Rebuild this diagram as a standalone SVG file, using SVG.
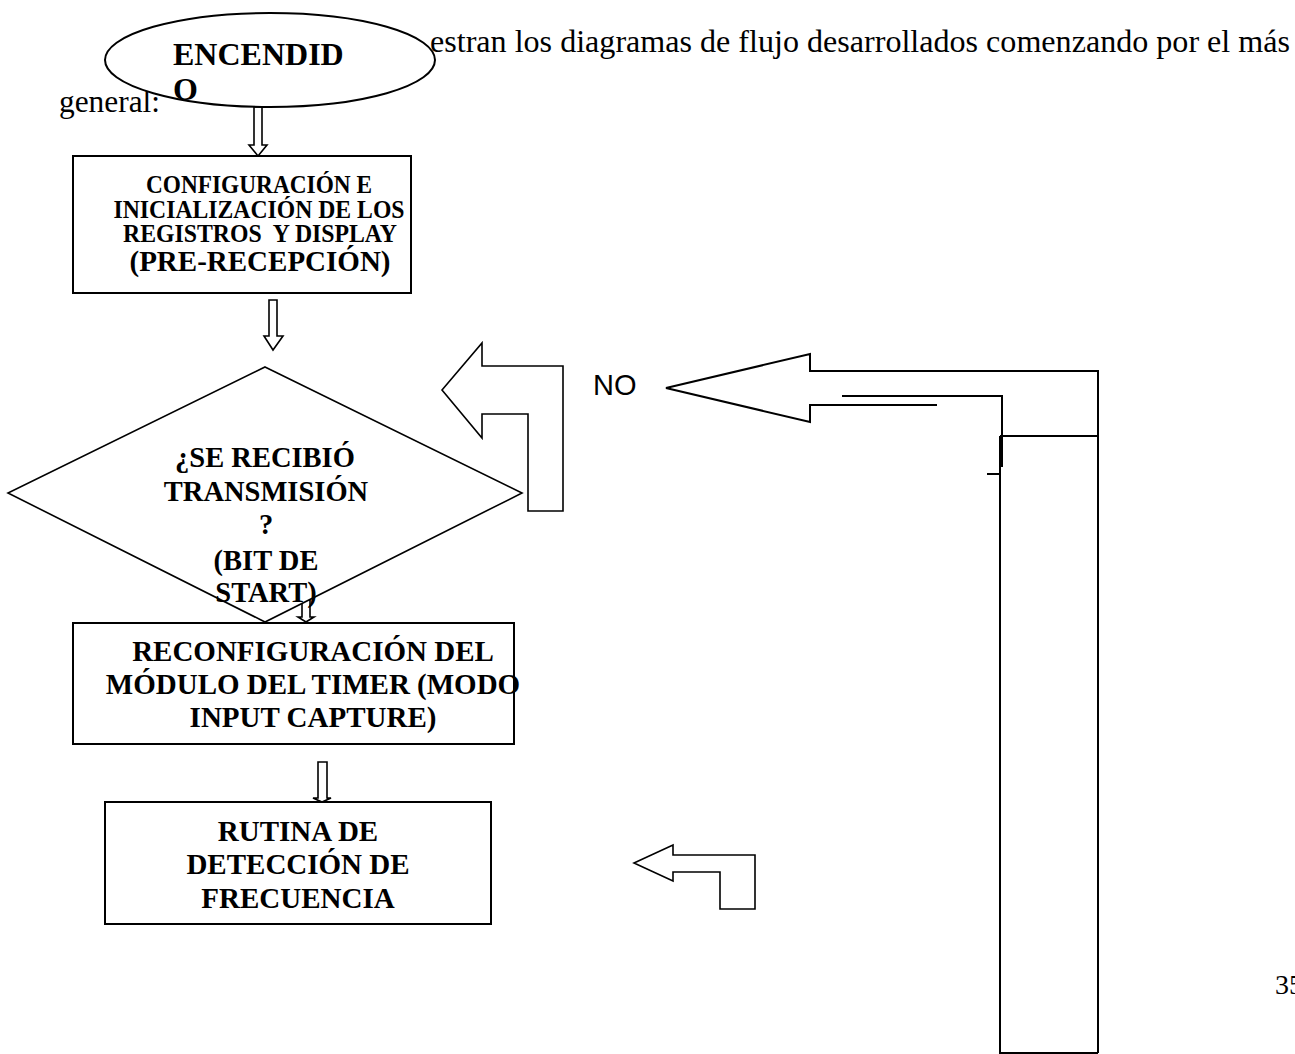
<svg xmlns="http://www.w3.org/2000/svg" width="1295" height="1054" viewBox="0 0 1295 1054">
<style>
.shape{fill:#fff;stroke:#000;stroke-width:2}
.thin{fill:#fff;stroke:#000;stroke-width:1.6}
.line{fill:none;stroke:#000;stroke-width:2}
.body{font-family:"Liberation Serif","Times New Roman",serif;font-size:32px;fill:#000}
.b{font-family:"Liberation Serif","Times New Roman",serif;font-weight:bold;fill:#000;text-anchor:middle}
.sans{font-family:"Liberation Sans",Arial,sans-serif;font-size:29px;fill:#000}
</style>
<rect width="1295" height="1054" fill="#fff"/>
<g id="page-text">
<text class="body" x="430" y="52" textLength="860" lengthAdjust="spacingAndGlyphs">estran los diagramas de flujo desarrollados comenzando por el más</text>
<text class="body" x="59" y="112" textLength="101" lengthAdjust="spacingAndGlyphs">general:</text>
<text class="body" x="1275" y="994" style="font-size:28px">35</text>
</g>
<g id="connectors">
<polygon class="thin" points="254,107 262,107 262,145 267,145 258,156 249,145 254,145"/>
<polygon class="thin" points="269,300 277,300 277,336 283,336 273,350 264,336 269,336"/>
<polygon class="thin" points="302,600 310,600 310,617 314,617 306,622 298,617 302,617"/>
<polygon class="thin" points="318,762 327,762 327,798 331,798 322,802 313,798 318,798"/>
<polygon class="thin" points="442,390 482,343 482,366 563,366 563,511 528,511 528,414 482,414 482,438"/>
<polygon class="thin" points="634,863 673,845 673,855 755,855 755,909 720,909 720,872 673,872 673,881"/>
<polyline class="line" points="1098,1053 1098,371 810,371 810,354 666,388 810,422 810,405 937,405"/>
<polyline class="line" points="842,396 1002,396 1002,467"/>
<polyline class="line" points="1000,436 1098,436"/>
<polyline class="line" points="1000,436 1000,1053 1098,1053"/>
<line class="line" x1="987" y1="474" x2="1000" y2="474"/>
</g>
<g id="node-encendido">
<ellipse class="shape" cx="270" cy="60" rx="165" ry="47"/>
<text class="b" x="173" y="65" font-size="32" style="text-anchor:start">ENCENDID</text>
<text class="b" x="173" y="100" font-size="32" style="text-anchor:start">O</text>
</g>
<g id="node-config">
<rect class="shape" x="73" y="156" width="338" height="137"/>
<text class="b" x="259" y="193" font-size="24.5" textLength="226" lengthAdjust="spacingAndGlyphs">CONFIGURACIÓN E</text>
<text class="b" x="259" y="218" font-size="24.5" textLength="291" lengthAdjust="spacingAndGlyphs">INICIALIZACIÓN DE LOS</text>
<text class="b" x="260" y="242" font-size="24.5" textLength="274" lengthAdjust="spacingAndGlyphs" xml:space="preserve">REGISTROS  Y DISPLAY</text>
<text class="b" x="260" y="271" font-size="29">(PRE-RECEPCIÓN)</text>
</g>
<g id="node-decision">
<polygon class="thin" points="265,367 522,493 265,622 8,493"/>
<text class="b" x="265" y="467" font-size="28.5">¿SE RECIBIÓ</text>
<text class="b" x="266" y="501" font-size="28.5">TRANSMISIÓN</text>
<text class="b" x="266" y="534" font-size="28.5">?</text>
<text class="b" x="266" y="570" font-size="28.5">(BIT DE</text>
<text class="b" x="266" y="602" font-size="28.5">START)</text>
</g>
<text class="sans" x="593" y="395">NO</text>
<g id="node-reconfig">
<rect class="shape" x="73" y="623" width="441" height="121" style="fill:none"/>
<text class="b" x="313" y="661" font-size="29">RECONFIGURACIÓN DEL</text>
<text class="b" x="313" y="694" font-size="29">MÓDULO DEL TIMER (MODO</text>
<text class="b" x="313" y="727" font-size="29">INPUT CAPTURE)</text>
</g>
<g id="node-rutina">
<rect class="shape" x="105" y="802" width="386" height="122"/>
<text class="b" x="298" y="841" font-size="29">RUTINA DE</text>
<text class="b" x="298" y="874" font-size="29">DETECCIÓN DE</text>
<text class="b" x="298" y="908" font-size="29">FRECUENCIA</text>
</g>
</svg>
